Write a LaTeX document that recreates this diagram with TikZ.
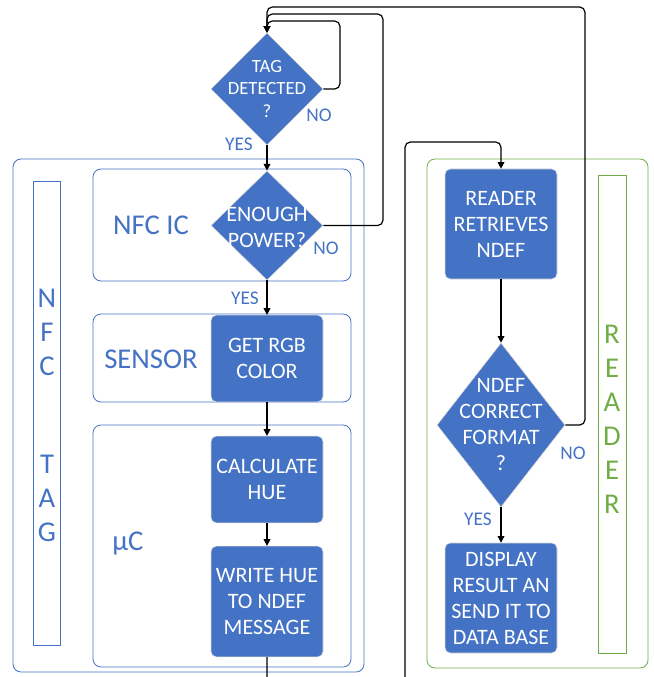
\documentclass[tikz,border=0pt]{standalone}
\usepackage{fontspec}
\setmainfont{Carlito}
\usetikzlibrary{shapes.geometric, arrows.meta, positioning}
\definecolor{nfcblue}{HTML}{4472C4}
\definecolor{readergreen}{HTML}{70AD47}
\tikzset{
    process/.style={rectangle, rounded corners=4pt, minimum width=84pt, inner sep=0pt, align=center, draw=black!15, line width=0.4pt, fill=nfcblue, text=white, font=\fontsize{16.5}{19.5}\selectfont},
    decision/.style={diamond, inner sep=0pt, draw=black!15, line width=0.4pt, fill=nfcblue},
    dtext/.style={align=center, text=white, font=\fontsize{16.5}{19.5}\selectfont},
    lane/.style={draw=nfcblue, line width=0.6pt, rounded corners=6pt},
    lanetitle/.style={align=center, text=nfcblue, font=\fontsize{21.5}{25.5}\selectfont},
    answer/.style={text=nfcblue, font=\fontsize{14.5}{16}\selectfont},
    arrow/.style={line width=0.9pt, rounded corners=4pt, -{Triangle[length=5pt,width=5pt]}}
}

\begin{document}
\begin{tikzpicture}[x=0.75pt, y=-0.75pt]
    \useasboundingbox (0,0) rectangle (653,677);

    % swim lanes
    \draw [lane] (13,159) rectangle (364,672);
    \draw [lane, rounded corners=0pt] (33,181) rectangle (60,645);
    \draw [lane] (93,169) rectangle (351,281);
    \draw [lane] (93,314) rectangle (351,402);
    \draw [lane] (93,425) rectangle (351,667);
    \draw [lane, draw=readergreen] (427,159) rectangle (648,668);
    \draw [lane, draw=readergreen, rounded corners=0pt] (598,175) rectangle (626,653);

    \node (tagtitle) [lanetitle] at (47,415) {N\\F\\C\\[48pt]T\\A\\G};
    \node (readertitle) [lanetitle, text=readergreen] at (612,419) {R\\E\\A\\D\\E\\R};
    \node (nfcic) [lanetitle] at (151,225) {NFC IC};
    \node (sensor) [lanetitle] at (151,359) {SENSOR};
    \node (uc) [lanetitle] at (128,544) {µC};

    % nfc tag side
    \node (tag) [decision, minimum width=84pt, minimum height=84pt] at (267,89) {};
    \node [dtext, font=\fontsize{14}{17}\selectfont] at (tag) {TAG\\DETECTED\\?};
    \node (power) [decision, minimum width=84pt, minimum height=82pt] at (267,225.5) {};
    \node [dtext] at (267,227) {ENOUGH\\POWER?};
    \node (rgb) [process, minimum height=65pt] at (267,358.5) {GET RGB\\COLOR};
    \node (hue) [process, minimum height=65pt] at (267,479.5) {CALCULATE\\HUE};
    \node (write) [process, minimum height=83pt] at (267,601.5) {WRITE HUE\\TO NDEF\\MESSAGE};

    % reader side
    \node (retrieve) [process, minimum height=82.5pt] at (501,224) {READER\\RETRIEVES\\NDEF};
    \node (format) [decision, minimum width=96pt, minimum height=123pt] at (501,425) {};
    \node [dtext] at (format) {NDEF\\CORRECT\\FORMAT\\?};
    \node (display) [process, minimum height=82.5pt] at (501,598) {DISPLAY\\RESULT AN\\SEND IT TO\\DATA BASE};

    % connectors
    \draw [arrow] (tag.east) -| (340,21) -| (tag.north);
    \draw [arrow] (power.east) -| (383,14) -| (tag.north);
    \draw [arrow] (format.east) -| (585,7) -| (tag.north);
    \draw [arrow] (tag) -- (power);
    \draw [arrow] (power) -- (rgb);
    \draw [arrow] (rgb) -- (hue);
    \draw [arrow] (hue) -- (write);
    \draw [arrow] (write.south) -- (267,700) -| (405,142) -| (retrieve.north);
    \draw [arrow] (retrieve) -- (format);
    \draw [arrow] (format) -- (display);

    \node (tagno) [answer] at (319,115) {NO};
    \node (tagyes) [answer] at (239,144) {YES};
    \node (powerno) [answer] at (326,248) {NO};
    \node (poweryes) [answer] at (245,298) {YES};
    \node (formatno) [answer] at (573,453) {NO};
    \node (formatyes) [answer] at (478,519) {YES};
\end{tikzpicture}
\end{document}
